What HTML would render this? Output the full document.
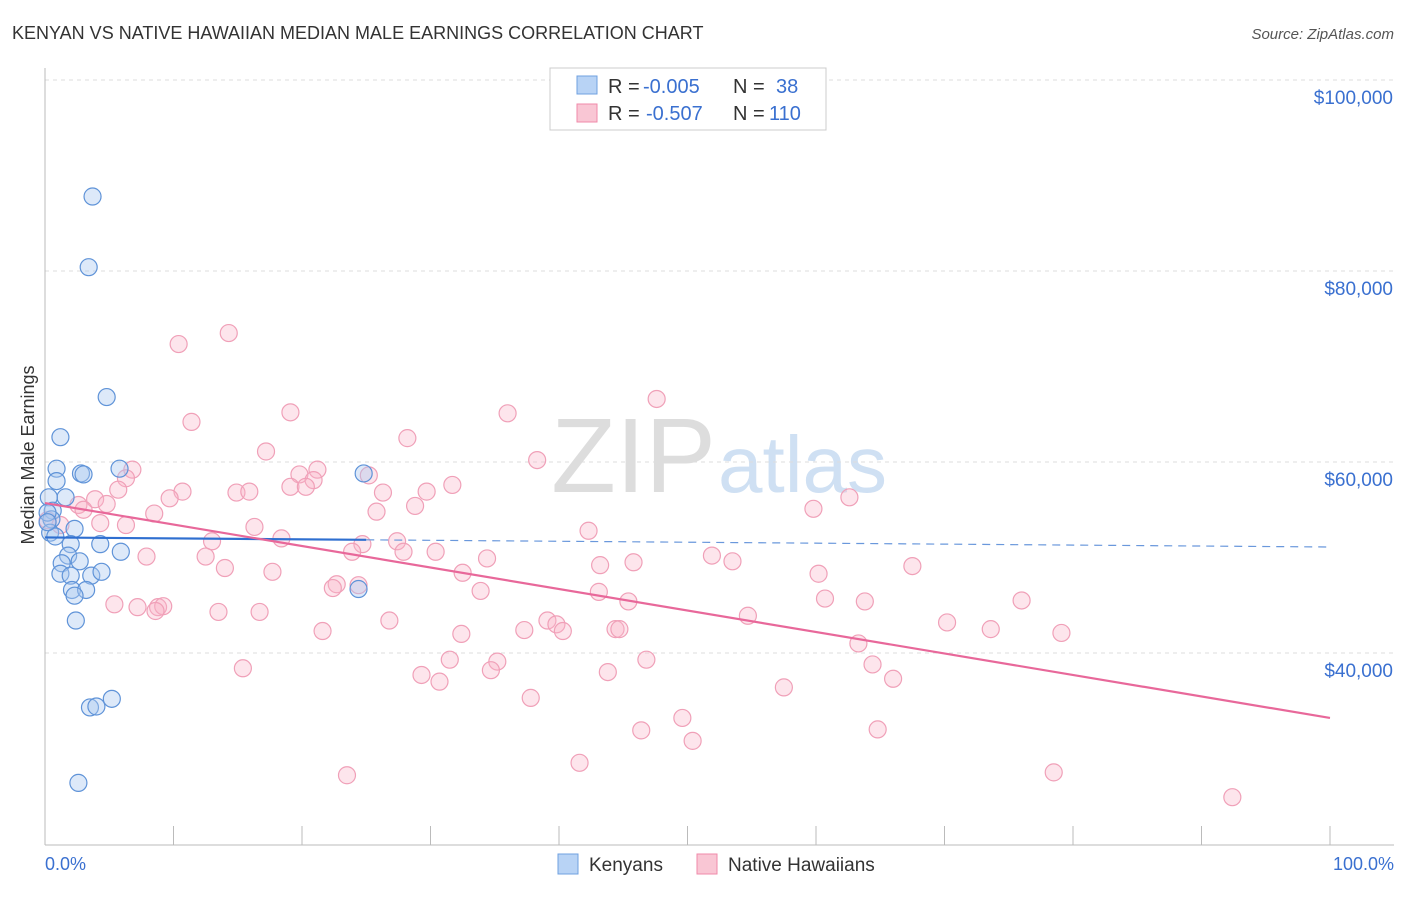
<!DOCTYPE html>
<html><head><meta charset="utf-8"><style>
body{margin:0;background:#fff;font-family:"Liberation Sans",sans-serif}
svg text{font-family:"Liberation Sans",sans-serif}
</style></head><body>
<svg id="c" width="1406" height="892">
<text x="12" y="39" font-size="18" fill="#333">KENYAN VS NATIVE HAWAIIAN MEDIAN MALE EARNINGS CORRELATION CHART</text>
<text x="1394" y="39" font-size="15" fill="#555" font-style="italic" text-anchor="end">Source: ZipAtlas.com</text>
<text x="716" y="492" font-size="106" fill="#ddd" text-anchor="end" font-family="Liberation Serif">ZIP</text>
<text x="718" y="492" font-size="80" fill="#cfe0f3">atlas</text>
<text transform="translate(34,455) rotate(-90)" font-size="18" fill="#333" text-anchor="middle">Median Male Earnings</text>
<g id="grid"></g><g id="pts"></g><g id="trend"></g>
<g>
<rect x="550" y="68" width="276" height="62" fill="#fff" stroke="#ccc"/>
<rect x="577" y="76" width="20" height="18" fill="#b8d3f5" stroke="#6fa0e0"/>
<rect x="577" y="104" width="20" height="18" fill="#f9c6d4" stroke="#f08aaa"/>
<text x="608" y="93" font-size="20" fill="#333">R =</text>
<text x="643" y="93" font-size="20" fill="#3a70d0">-0.005</text>
<text x="733" y="93" font-size="20" fill="#333">N =</text>
<text x="776" y="93" font-size="20" fill="#3a70d0">38</text>
<text x="608" y="120" font-size="20" fill="#333">R =</text>
<text x="646" y="120" font-size="20" fill="#3a70d0">-0.507</text>
<text x="733" y="120" font-size="20" fill="#333">N =</text>
<text x="769" y="120" font-size="20" fill="#3a70d0">110</text>
</g>
<g>
<rect x="558" y="854" width="20" height="20" fill="#b8d3f5" stroke="#6fa0e0"/>
<text x="589" y="871" font-size="19" fill="#333">Kenyans</text>
<rect x="697" y="854" width="20" height="20" fill="#f9c6d4" stroke="#f08aaa"/>
<text x="728" y="871" font-size="19" fill="#333">Native Hawaiians</text>
</g>
<text x="45" y="870" font-size="18" fill="#3a70d0">0.0%</text>
<text x="1394" y="870" font-size="18" fill="#3a70d0" text-anchor="end">100.0%</text>
</svg>
<script>
const yTicks=[40000,60000,80000,100000];
const yTickLabels=["$40,000","$60,000","$80,000","$100,000"];
const xTicks=[0,10,20,30,40,50,60,70,80,90,100];
const kenX=[3.7,3.4,4.8,1.2,5.8,0.9,2.8,3.0,0.9,24.8,1.6,0.3,0.6,0.5,2.3,0.4,0.8,2.0,4.3,5.9,1.8,2.7,1.3,1.2,2.0,3.6,4.4,2.1,3.2,2.3,24.4,2.4,5.2,3.5,4.0,2.6,0.2,0.2];
const kenY=[87800,80400,66800,62600,59300,59300,58800,58700,58000,58800,56300,56300,54900,54000,53000,52600,52200,51400,51400,50600,50200,49600,49400,48300,48100,48100,48500,46600,46600,46000,46700,43400,35200,34300,34400,26400,54700,53700];
const hawX=[14.3,10.4,47.6,19.1,36.0,11.4,28.2,17.2,38.3,6.8,19.8,21.2,25.2,20.9,6.3,5.7,10.7,9.7,14.9,15.9,19.1,20.3,26.3,29.7,31.7,62.6,3.9,2.6,3.0,4.8,8.5,25.8,28.8,59.8,4.3,6.3,16.3,42.3,13.0,18.4,24.7,27.4,27.9,30.4,23.9,7.9,12.5,34.4,51.9,43.2,45.8,53.5,67.5,14.0,17.7,32.5,22.7,24.4,22.4,33.9,43.1,45.4,60.2,60.7,63.8,76.0,5.4,7.2,8.8,9.2,13.5,16.7,26.8,39.1,39.8,40.3,44.4,44.7,54.7,70.2,73.6,79.1,21.6,32.4,37.3,63.3,15.4,29.3,31.5,35.2,34.7,43.8,46.8,64.4,66.0,30.7,57.5,37.8,49.6,46.4,64.8,50.4,23.5,41.6,78.5,92.4,8.6,0.2,1.2];
const hawY=[73500,72350,66600,65200,65100,64200,62500,61100,60200,59200,58700,59200,58600,58100,58300,57100,56900,56200,56800,56900,57400,57400,56800,56900,57600,56300,56100,55500,55000,55600,54600,54800,55400,55100,53600,53400,53200,52800,51700,52000,51400,51700,50600,50600,50600,50100,50100,49900,50200,49200,49500,49600,49100,48900,48500,48400,47200,47100,46800,46500,46400,45400,48300,45700,45400,45500,45100,44800,44800,44900,44300,44300,43400,43400,43000,42300,42500,42500,43900,43200,42500,42100,42300,42000,42400,41000,38400,37700,39300,39100,38200,38000,39300,38800,37300,37000,36400,35300,33200,31900,32000,30800,27200,28500,27500,24900,44400,53900,53400];
const kenTrend=[52100,51100];const hawTrend=[55700,33200];
const X=v=>45+v*12.85, Y=v=>653-(v-40000)*191/20000;
const NS="http://www.w3.org/2000/svg";
function mk(p,t,a){const e=document.createElementNS(NS,t);for(const k in a)e.setAttribute(k,a[k]);p.appendChild(e);return e;}
const g=document.getElementById('grid');
yTicks.forEach((v,i)=>{
 const l=mk(g,'line',{x1:45,x2:1394,y1:Y(v),y2:Y(v),stroke:'#ddd','stroke-dasharray':'4,4'});
 
 
 const t=mk(g,'text',{x:1393,y:Y(v)+24,'font-size':19,fill:'#3a70d0','text-anchor':'end'});t.textContent=yTickLabels[i];
 
 
});
const ax=mk(g,'line',{x1:45,x2:1394,y1:845,y2:845,stroke:'#bbb'});


const ay=mk(g,'line',{x1:45,x2:45,y1:68,y2:845,stroke:'#bbb'});


xTicks.forEach(v=>{const t=mk(g,'line',{x1:X(v),x2:X(v),y1:826,y2:845,stroke:'#bbb'});
 
 });
const P=document.getElementById('pts');
hawX.forEach((x,i)=>{const c=mk(P,'circle',{cx:X(x),cy:Y(hawY[i]),r:8.5,fill:'rgba(248,180,200,0.35)',stroke:'#f0a0b8','stroke-width':1.2});
 
 });
kenX.forEach((x,i)=>{const c=mk(P,'circle',{cx:X(x),cy:Y(kenY[i]),r:8.5,fill:'rgba(170,200,240,0.4)',stroke:'#5f93d8','stroke-width':1.2});
 
 });
const T=document.getElementById('trend');
const kv=v=>kenTrend[0]+(kenTrend[1]-kenTrend[0])*v/100;
const k1=mk(T,'line',{x1:X(0),y1:Y(kv(0)),x2:X(25),y2:Y(kv(25)),stroke:'#2f6fd0','stroke-width':2.2});


const k2=mk(T,'line',{x1:X(25),y1:Y(kv(25)),x2:X(100),y2:Y(kv(100)),stroke:'#6a98dc','stroke-width':1.2,'stroke-dasharray':'8,6'});


const h=mk(T,'line',{x1:X(0),y1:Y(hawTrend[0]),x2:X(100),y2:Y(hawTrend[1]),stroke:'#e8689a','stroke-width':2.2});


</script>
</body></html>
